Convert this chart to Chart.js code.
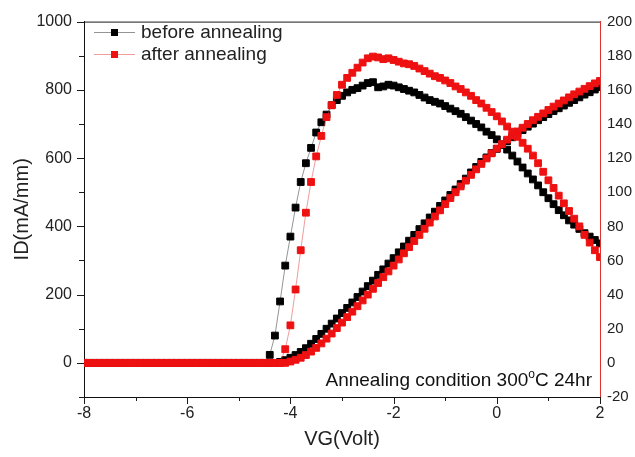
<!DOCTYPE html>
<html>
<head>
<meta charset="utf-8">
<script src="https://cdn.jsdelivr.net/npm/chart.js@4/dist/chart.umd.min.js"></script>
<style>
  html, body { margin: 0; padding: 0; background: #fff; }
  canvas { display: block; }
</style>
</head>
<body>
<canvas id="c" width="635" height="457"></canvas>
<script>
// Gate voltage sweep (V), 0.1 V steps
const vg = [
  -8, -7.9, -7.8, -7.7, -7.6, -7.5, -7.4, -7.3, -7.2, -7.1,
  -7, -6.9, -6.8, -6.7, -6.6, -6.5, -6.4, -6.3, -6.2, -6.1,
  -6, -5.9, -5.8, -5.7, -5.6, -5.5, -5.4, -5.3, -5.2, -5.1,
  -5, -4.9, -4.8, -4.7, -4.6, -4.5, -4.4, -4.3, -4.2, -4.1,
  -4, -3.9, -3.8, -3.7, -3.6, -3.5, -3.4, -3.3, -3.2, -3.1,
  -3, -2.9, -2.8, -2.7, -2.6, -2.5, -2.4, -2.3, -2.2, -2.1,
  -2, -1.9, -1.8, -1.7, -1.6, -1.5, -1.4, -1.3, -1.2, -1.1,
  -1, -0.9, -0.8, -0.7, -0.6, -0.5, -0.4, -0.3, -0.2, -0.1,
  0, 0.1, 0.2, 0.3, 0.4, 0.5, 0.6, 0.7, 0.8, 0.9,
  1, 1.1, 1.2, 1.3, 1.4, 1.5, 1.6, 1.7, 1.8, 1.9,
  2
];

// Drain current ID (mA/mm), left axis
const idBefore = [
  0, 0, 0, 0, 0, 0, 0, 0, 0, 0,
  0, 0, 0, 0, 0, 0, 0, 0, 0, 0,
  0, 0, 0, 0, 0, 0, 0, 0, 0, 0,
  0, 0, 0, 0, 0, 0, 0, 0, 3, 8,
  15, 23, 32, 43, 56, 70, 85, 100, 115, 130,
  146, 161, 177, 193, 209, 225, 241, 258, 274, 291,
  307, 324, 341, 358, 375, 392, 409, 426, 443, 460,
  476, 492, 508, 524, 540, 558, 574, 589, 602, 615,
  627, 639, 650, 661, 672, 682, 692, 701, 711, 720,
  729, 738, 746, 754, 762, 770, 778, 786, 793, 801,
  808
];
const idAfter = [
  0, 0, 0, 0, 0, 0, 0, 0, 0, 0,
  0, 0, 0, 0, 0, 0, 0, 0, 0, 0,
  0, 0, 0, 0, 0, 0, 0, 0, 0, 0,
  0, 0, 0, 0, 0, 0, 0, 0, 0, 0,
  4, 9, 15, 23, 33, 44, 57, 71, 86, 102,
  118, 134, 150, 166, 183, 200, 217, 234, 251, 268,
  285, 303, 321, 339, 357, 375, 393, 411, 429, 447,
  465, 483, 500, 517, 534, 551, 567, 583, 599, 614,
  628, 641, 654, 666, 678, 689, 700, 711, 721, 731,
  741, 751, 760, 769, 778, 787, 795, 803, 811, 819,
  826
];

// Transconductance gm, right axis
const gmBefore = [
  0, 0, 0, 0, 0, 0, 0, 0, 0, 0,
  0, 0, 0, 0, 0, 0, 0, 0, 0, 0,
  0, 0, 0, 0, 0, 0, 0, 0, 0, 0,
  0, 0, 0, 0, 0, 0, 4.7, 16, 36, 57,
  74, 91, 106, 117, 126, 135, 141, 145.5, 151, 154,
  156.5, 158.5, 160, 161, 162.5, 164, 164.5, 161.5, 162, 163,
  162.5, 161.5, 160.5, 159.5, 158.5, 157, 155.5, 154, 153, 152,
  150.5, 149, 147.5, 146, 144, 142, 140, 138, 135.5, 133.5,
  131, 128, 125, 121.5, 118, 114.5, 111, 107.5, 104, 100,
  96.5, 93, 89.5, 86.5, 83.5, 81, 78.5, 76, 74, 72,
  70
];
const gmAfter = [
  0, 0, 0, 0, 0, 0, 0, 0, 0, 0,
  0, 0, 0, 0, 0, 0, 0, 0, 0, 0,
  0, 0, 0, 0, 0, 0, 0, 0, 0, 0,
  0, 0, 0, 0, 0, 0, 0, 0, 0, 8,
  22, 43, 66, 88, 106, 121, 133, 144, 151, 157,
  163, 167, 170, 173, 176, 178.5, 179.5, 179, 178, 178.5,
  177.5, 176.5, 175.5, 175, 174, 172.5, 171, 169.5, 168, 167,
  165.5, 164, 162, 160.5, 158.5, 156.5, 154, 152, 149.5, 147,
  144.5, 141.5, 138.5, 135.5, 132.5, 129, 125.5, 121.5, 117, 112,
  107, 102.5, 98, 93.5, 89, 84.5, 80, 75, 70.5, 66,
  62
];

const seriesNames = ['before annealing', 'after annealing'];
const idTicks = [0, 200, 400, 600, 800, 1000];
const idMinorTicks = [-100, 100, 300, 500, 700, 900];
const gmTicks = [-20, 0, 20, 40, 60, 80, 100, 120, 140, 160, 180, 200];
const vgTicks = [-8, -6, -4, -2, 0, 2];
const vgMinorTicks = [-7, -5, -3, -1, 1];

const FONT = "'Liberation Sans', Arial, sans-serif";
const BLACK = '#000000';
const RED = '#ee1111';
const BLACK_LINE = 'rgba(60,60,60,0.55)';
const RED_LINE = 'rgba(225,60,60,0.5)';

const pts = arr => vg.map((v, i) => ({ x: v, y: arr[i] }));

function series(label, arr, axis, color, lineColor, order) {
  return {
    label,
    data: pts(arr),
    yAxisID: axis,
    borderColor: lineColor,
    borderWidth: 1,
    backgroundColor: color,
    pointStyle: 'rect',
    pointRadius: 4.8,
    pointHoverRadius: 4.8,
    pointBackgroundColor: color,
    pointBorderColor: color,
    pointBorderWidth: 1,
    tension: 0,
    order
  };
}

const plainNumber = v => String(v);

// Frame, tick marks, legend and the annealing note
const decor = {
  id: 'decor',
  afterDraw(chart) {
    const { ctx, chartArea: a, scales } = chart;
    const x = scales.x, y = scales.y;
    ctx.save();
    ctx.strokeStyle = '#1a1a1a';
    ctx.lineWidth = 1;
    ctx.beginPath();
    ctx.moveTo(a.left, a.top + 0.5);
    ctx.lineTo(a.right, a.top + 0.5);
    ctx.stroke();

    ctx.beginPath();
    vgTicks.forEach(v => {
      const px = Math.round(x.getPixelForValue(v)) + 0.5;
      ctx.moveTo(px, a.bottom); ctx.lineTo(px, a.bottom + 7);
    });
    vgMinorTicks.forEach(v => {
      const px = Math.round(x.getPixelForValue(v)) + 0.5;
      ctx.moveTo(px, a.bottom); ctx.lineTo(px, a.bottom + 4);
    });
    idTicks.forEach(v => {
      const py = Math.round(y.getPixelForValue(v)) + 0.5;
      ctx.moveTo(a.left, py); ctx.lineTo(a.left - 7, py);
    });
    idMinorTicks.forEach(v => {
      const py = Math.round(y.getPixelForValue(v)) + 0.5;
      ctx.moveTo(a.left, py); ctx.lineTo(a.left - 5, py);
    });
    ctx.stroke();

    // legend
    const entries = [
      { name: seriesNames[0], color: BLACK, line: BLACK_LINE, y: 32 },
      { name: seriesNames[1], color: RED, line: RED_LINE, y: 54 }
    ];
    ctx.font = '19px ' + FONT;
    ctx.textBaseline = 'middle';
    ctx.textAlign = 'left';
    entries.forEach(e => {
      ctx.strokeStyle = e.line;
      ctx.lineWidth = 1;
      ctx.beginPath();
      ctx.moveTo(a.left + 10, e.y + 0.5); ctx.lineTo(a.left + 51, e.y + 0.5);
      ctx.stroke();
      ctx.fillStyle = e.color;
      ctx.fillRect(a.left + 27, e.y - 3, 7, 7);
      ctx.fillStyle = '#222';
      ctx.fillText(e.name, a.left + 57, e.y + 1);
    });

    // annealing note, right aligned inside the plot
    ctx.fillStyle = '#111';
    ctx.textBaseline = 'alphabetic';
    const base = a.bottom - 11;
    const p1 = 'Annealing condition 300', sup = 'o', p2 = 'C 24hr';
    ctx.font = '19px ' + FONT;
    const w1 = ctx.measureText(p1).width, w3 = ctx.measureText(p2).width;
    ctx.font = '12px ' + FONT;
    const w2 = ctx.measureText(sup).width;
    let sx = a.right - 8 - (w1 + w2 + w3);
    ctx.font = '19px ' + FONT;
    ctx.fillText(p1, sx, base);
    sx += w1;
    ctx.font = '12px ' + FONT;
    ctx.fillText(sup, sx, base - 8);
    sx += w2;
    ctx.font = '19px ' + FONT;
    ctx.fillText(p2, sx, base);
    ctx.restore();
  }
};

new Chart(document.getElementById('c'), {
  type: 'line',
  data: {
    datasets: [
      series(seriesNames[0] + ' ID', idBefore, 'y', BLACK, BLACK_LINE, 3),
      series(seriesNames[0] + ' gm', gmBefore, 'y1', BLACK, BLACK_LINE, 2),
      series(seriesNames[1] + ' ID', idAfter, 'y', RED, RED_LINE, 1),
      series(seriesNames[1] + ' gm', gmAfter, 'y1', RED, RED_LINE, 0)
    ]
  },
  options: {
    responsive: false,
    animation: false,
    devicePixelRatio: 1,
    layout: { padding: { top: 16, left: 0, right: 0, bottom: 0 } },
    plugins: { legend: { display: false }, tooltip: { enabled: false } },
    scales: {
      x: {
        type: 'linear',
        min: -8, max: 2,
        afterBuildTicks: s => { s.ticks = vgTicks.map(v => ({ value: v })); },
        afterFit: s => { s.height = 60; },
        grid: { display: false, drawTicks: false },
        border: { display: true, color: '#111', width: 1 },
        ticks: { padding: 7, color: '#222', font: { family: FONT, size: 16 }, callback: plainNumber },
        title: { display: true, text: 'VG(Volt)', color: '#222',
                 font: { family: FONT, size: 20 }, padding: { bottom: 6 } }
      },
      y: {
        type: 'linear',
        position: 'left',
        min: -100, max: 1000,
        afterBuildTicks: s => { s.ticks = idTicks.map(v => ({ value: v })); },
        afterFit: s => { s.width = 84; },
        grid: { display: false, drawTicks: false },
        border: { display: true, color: '#111', width: 1 },
        ticks: { padding: 12, color: '#222', font: { family: FONT, size: 16 }, callback: plainNumber },
        title: { display: true, text: 'ID(mA/mm)', color: '#222',
                 font: { family: FONT, size: 20 }, padding: { top: 10 } }
      },
      y1: {
        type: 'linear',
        position: 'right',
        min: -20, max: 200,
        afterBuildTicks: s => { s.ticks = gmTicks.map(v => ({ value: v })); },
        afterFit: s => { s.width = 35; },
        grid: { display: false, drawTicks: false },
        border: { display: true, color: '#e03030', width: 1 },
        ticks: { padding: 7, color: '#222', font: { family: FONT, size: 15 }, callback: plainNumber }
      }
    }
  },
  plugins: [decor]
});
</script>
</body>
</html>
